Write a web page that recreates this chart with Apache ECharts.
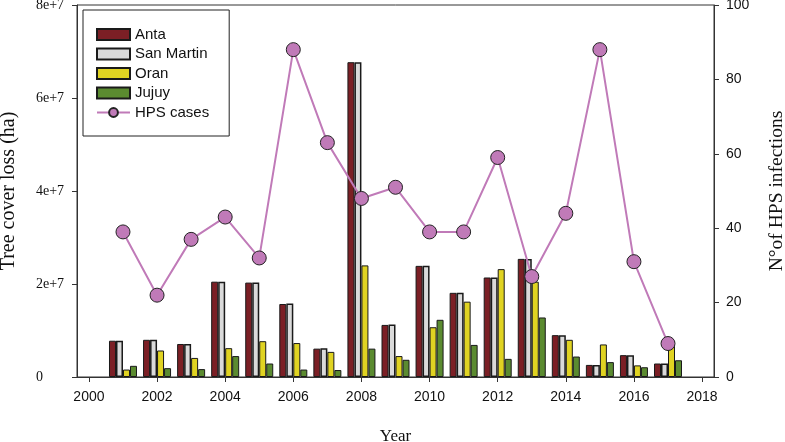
<!DOCTYPE html>
<html><head><meta charset="utf-8">
<script src="https://cdn.jsdelivr.net/npm/echarts@6/dist/echarts.min.js"></script>
<style>html,body{margin:0;padding:0;background:#fff}#c{width:785px;height:442px}</style>
</head><body><div id="c"></div>
<script>
const years = [2001,2002,2003,2004,2005,2006,2007,2008,2009,2010,2011,2012,2013,2014,2015,2016,2017];
const anta      = [7.8e6,8.0e6,7.1e6,20.5e6,20.3e6,15.7e6,6.1e6,67.7e6,11.2e6,23.9e6,18.1e6,21.4e6,25.4e6,9.0e6,2.6e6,4.7e6,2.9e6];
const sanMartin = [7.8e6,8.0e6,7.1e6,20.5e6,20.3e6,15.8e6,6.2e6,67.7e6,11.3e6,23.9e6,18.1e6,21.4e6,25.4e6,9.0e6,2.6e6,4.7e6,2.9e6];
const oran      = [1.6e6,5.7e6,4.1e6,6.2e6,7.7e6,7.3e6,5.4e6,24.0e6,4.5e6,10.7e6,16.2e6,23.2e6,20.5e6,8.0e6,7.0e6,2.5e6,6.9e6];
const jujuy     = [2.4e6,1.9e6,1.7e6,4.5e6,2.9e6,1.6e6,1.5e6,6.1e6,3.7e6,12.3e6,6.9e6,3.9e6,12.8e6,4.4e6,3.2e6,2.1e6,3.6e6];
const hps       = [39,22,37,43,32,88,63,48,51,39,39,59,27,44,88,31,9];
const xTicks = [2000,2002,2004,2006,2008,2010,2012,2014,2016,2018];

const pair = arr => years.map((y,i)=>[y,arr[i]]);
const barSeries = (name, arr, color, bw) => ({
  name, type:'bar', data: pair(arr), barWidth:7, barGap:'0%',
  itemStyle:{color, borderColor:'#1a1a1a', borderWidth: bw}
});
const chart = echarts.init(document.getElementById('c'), null, {renderer:'canvas'});
chart.setOption({
  animation:false,
  grid:{left:77, right:71, top:5, bottom:65, outerBoundsMode:'none', containLabel:false,
        show:true, borderColor:'#333', borderWidth:1},
  legend:{
    left:83, top:10, orient:'vertical', width:130,
    padding:[17,20,16,13], itemGap:4.5, itemWidth:33, itemHeight:11,
    borderColor:'#222', borderWidth:1, backgroundColor:'#fff',
    textStyle:{fontFamily:'Liberation Sans', fontSize:15, color:'#111'},
    data:[{name:'Anta',icon:'rect'},{name:'San Martin',icon:'rect'},{name:'Oran',icon:'rect'},{name:'Jujuy',icon:'rect'},'HPS cases']
  },
  xAxis:{
    type:'value', min:1999.65, max:2018.35,
    name:'Year', nameLocation:'middle', nameGap:51,
    nameTextStyle:{fontFamily:'Liberation Serif', fontSize:17, color:'#111'},
    axisLine:{lineStyle:{color:'#333'}},
    axisTick:{show:true, length:5, customValues:xTicks, lineStyle:{color:'#333'}},
    axisLabel:{customValues:xTicks, margin:13, fontFamily:'Liberation Sans', fontSize:14, color:'#111',
      formatter:v=>String(v)},
    splitLine:{show:false}
  },
  yAxis:[{
    type:'value', min:0, max:8e7, interval:2e7, position:'left',
    name:'Tree cover loss (ha)', nameLocation:'middle', nameGap:58, nameRotate:90,
    nameTextStyle:{fontFamily:'Liberation Serif', fontSize:20, color:'#111'},
    axisLine:{show:true, lineStyle:{color:'#333'}},
    axisTick:{show:true, length:5, lineStyle:{color:'#333'}},
    axisLabel:{margin:41, align:'left', fontFamily:'Liberation Serif', fontSize:14, color:'#111',
      formatter:v=> v===0 ? '0' : (v/1e7)+'e+7'},
    splitLine:{show:false}
  },{
    type:'value', min:0, max:100, interval:20, position:'right',
    name:'N°of HPS infections', nameLocation:'middle', nameGap:53, nameRotate:90,
    nameTextStyle:{fontFamily:'Liberation Serif', fontSize:19.5, color:'#111'},
    axisLine:{show:true, lineStyle:{color:'#333'}},
    axisTick:{show:true, length:5, lineStyle:{color:'#333'}},
    axisLabel:{margin:12, fontFamily:'Liberation Sans', fontSize:14, color:'#111'},
    splitLine:{show:false}
  }],
  series:[
    barSeries('Anta', anta, '#7b1f25', 1),
    barSeries('San Martin', sanMartin, '#dadada', 1.5),
    barSeries('Oran', oran, '#e0d322', 1),
    barSeries('Jujuy', jujuy, '#5b8b30', 1),
    {name:'HPS cases', type:'line', yAxisIndex:1, data: pair(hps),
     symbol:'circle', symbolSize:14,
     lineStyle:{color:'#c07ab8', width:2},
     itemStyle:{color:'#c07ab8', borderColor:'#222', borderWidth:1}, z:5}
  ]
});
</script></body></html>
